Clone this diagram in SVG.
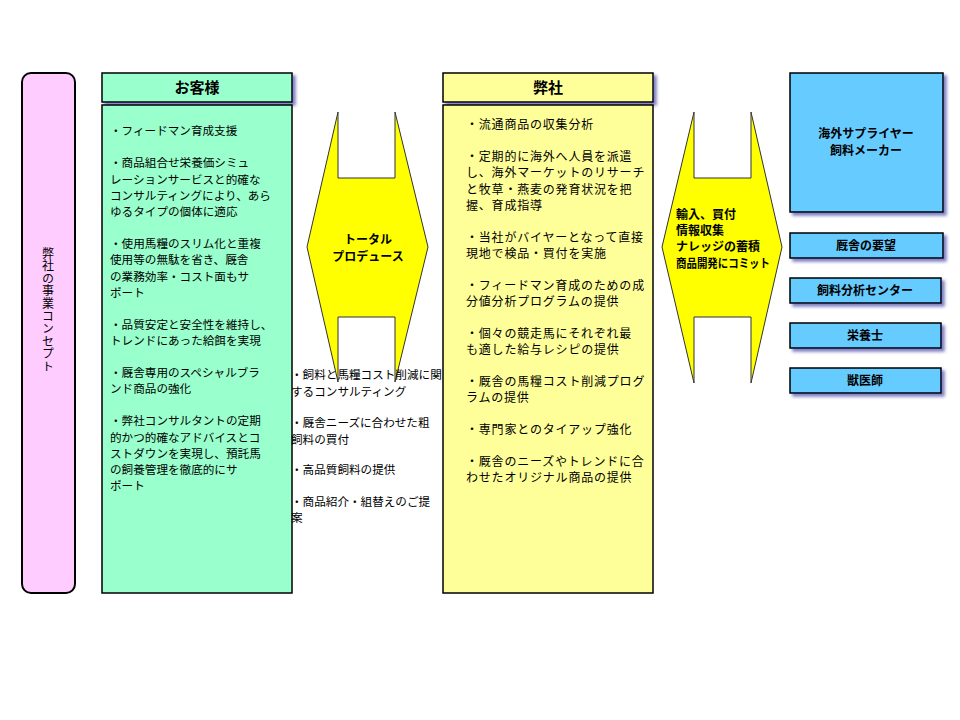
<svg xmlns="http://www.w3.org/2000/svg" width="960" height="720" viewBox="0 0 960 720">
<defs>
<filter id="sh" x="-10%" y="-10%" width="130%" height="140%">
<feDropShadow dx="3" dy="3" stdDeviation="1.8" flood-color="#2a2a99" flood-opacity="0.6"/>
</filter>
<style>
text{font-family:"Noto Sans CJK JP","Noto Sans CJK SC",sans-serif;fill:#000}
.b{font-weight:bold}
.cu{font-size:11.6px}
.co{font-size:12px;letter-spacing:0.8px}
.mid{font-size:11.6px}
.hd{font-size:15px;font-weight:bold;text-anchor:middle}
.bx{font-size:12px;font-weight:bold;text-anchor:middle}
.ln{stroke:#000;stroke-width:1.5}
.vt{font-size:12px;writing-mode:vertical-rl;text-orientation:upright;text-anchor:middle;letter-spacing:0.6px}
</style>
</defs>
<rect width="960" height="720" fill="#fff"/>

<g id="concept">
<rect x="22" y="73" width="53" height="520" rx="9" fill="#FFCCFF" stroke="#000" stroke-width="2"/>
<text x="48" y="310" class="vt">弊社の事業コンセプト</text>
</g>

<g id="customer">
<rect x="102" y="73" width="190" height="29" fill="#99FFCC" class="ln" filter="url(#sh)"/>
<text x="197" y="93" class="hd">お客様</text>
<rect x="102" y="105" width="190" height="488" fill="#99FFCC" class="ln"/>
<g class="cu">
<text x="110" y="135">・フィードマン育成支援</text>
<text x="110" y="167">・商品組合せ栄養価シミュ</text>
<text x="110" y="184">レーションサービスと的確な</text>
<text x="110" y="200">コンサルティングにより、あら</text>
<text x="110" y="216">ゆるタイプの個体に適応</text>
<text x="110" y="248">・使用馬糧のスリム化と重複</text>
<text x="110" y="264">使用等の無駄を省き、厩舎</text>
<text x="110" y="281">の業務効率・コスト面もサ</text>
<text x="110" y="297">ポート</text>
<text x="110" y="329">・品質安定と安全性を維持し、</text>
<text x="110" y="345">トレンドにあった給餌を実現</text>
<text x="110" y="377">・厩舎専用のスペシャルブラ</text>
<text x="110" y="393">ンド商品の強化</text>
<text x="110" y="425">・弊社コンサルタントの定期</text>
<text x="110" y="442">的かつ的確なアドバイスとコ</text>
<text x="110" y="458">ストダウンを実現し、預託馬</text>
<text x="110" y="474">の飼養管理を徹底的にサ</text>
<text x="110" y="490">ポート</text>
</g>
</g>

<g id="company">
<rect x="443" y="73" width="210" height="29" fill="#FFFF99" class="ln" filter="url(#sh)"/>
<text x="548" y="93" class="hd">弊社</text>
<rect x="443" y="105" width="210" height="488" fill="#FFFF99" class="ln"/>
<g class="co">
<text x="466" y="129">・流通商品の収集分析</text>
<text x="466" y="161">・定期的に海外へ人員を派遣</text>
<text x="466" y="177">し、海外マーケットのリサーチ</text>
<text x="466" y="194">と牧草・燕麦の発育状況を把</text>
<text x="466" y="210">握、育成指導</text>
<text x="466" y="242">・当社がバイヤーとなって直接</text>
<text x="466" y="258">現地で検品・買付を実施</text>
<text x="466" y="290">・フィードマン育成のための成</text>
<text x="466" y="306">分値分析プログラムの提供</text>
<text x="466" y="338">・個々の競走馬にそれぞれ最</text>
<text x="466" y="354">も適した給与レシピの提供</text>
<text x="466" y="386">・厩舎の馬糧コスト削減プログ</text>
<text x="466" y="402">ラムの提供</text>
<text x="466" y="434">・専門家とのタイアップ強化</text>
<text x="466" y="466">・厩舎のニーズやトレンドに合</text>
<text x="466" y="482">わせたオリジナル商品の提供</text>
</g>
</g>

<g id="connectors">
<g id="arrow-total">
<path d="M338,112 L338,178 L395,178 L395,112 L428,247 L395,382 L395,317 L338,317 L338,382 L307,247 Z" fill="#FFFF00" stroke="#333" stroke-width="1"/>
<text x="368" y="244" class="bx">トータル</text>
<text x="368" y="261" class="bx">プロデュース</text>
</g>
<g id="arrow-import">
<path d="M694,112 L694,178 L751,178 L751,112 L782,247 L751,383 L751,317 L694,317 L694,383 L662,247 Z" fill="#FFFF00" stroke="#333" stroke-width="1"/>
<g class="b" style="font-size:12px">
<text x="676" y="219">輸入、買付</text>
<text x="676" y="235">情報収集</text>
<text x="676" y="251">ナレッジの蓄積</text>
<text x="676" y="268" textLength="94" lengthAdjust="spacingAndGlyphs">商品開発にコミット</text>
</g>
</g>
</g>

<g id="middle-text" class="mid">
<text x="291" y="379">・飼料と馬糧コスト削減に関</text>
<text x="291" y="396">するコンサルティング</text>
<text x="291" y="427">・厩舎ニーズに合わせた粗</text>
<text x="291" y="444">飼料の買付</text>
<text x="291" y="474">・高品質飼料の提供</text>
<text x="291" y="506">・商品紹介・組替えのご提</text>
<text x="291" y="522">案</text>
</g>

<g id="suppliers">
<rect x="790" y="73" width="153" height="139" fill="#66CCFF" class="ln" filter="url(#sh)"/>
<text x="866" y="138" class="bx">海外サプライヤー</text>
<text x="866" y="155" class="bx">飼料メーカー</text>
</g>
<g id="stable">
<rect x="790" y="233" width="153" height="25" fill="#66CCFF" class="ln" filter="url(#sh)"/>
<text x="866" y="250" class="bx">厩舎の要望</text>
</g>
<g id="analysis">
<rect x="790" y="278" width="151" height="25" fill="#66CCFF" class="ln" filter="url(#sh)"/>
<text x="865" y="295" class="bx">飼料分析センター</text>
</g>
<g id="nutrition">
<rect x="790" y="323" width="151" height="25" fill="#66CCFF" class="ln" filter="url(#sh)"/>
<text x="865" y="340" class="bx">栄養士</text>
</g>
<g id="vet">
<rect x="790" y="368" width="151" height="25" fill="#66CCFF" class="ln" filter="url(#sh)"/>
<text x="865" y="385" class="bx">獣医師</text>
</g>
</svg>
